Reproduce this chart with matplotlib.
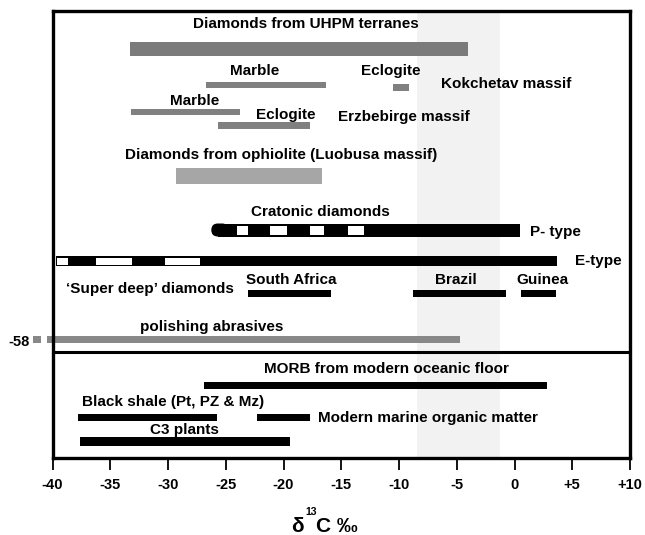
import matplotlib.pyplot as plt
from matplotlib.patches import FancyBboxPatch

# d13C ranges (per mil)
band = (-8.45, -1.25)

gray_names = ['UHPM', 'Kok marble', 'Kok eclogite', 'Erz marble', 'Erz eclogite',
              'Ophiolite', 'Polishing', 'Polishing -58']
gray_lo = [-33.3, -26.7, -10.5, -33.2, -25.7, -29.35, -40.5, -41.7]
gray_hi = [-4.0, -16.3, -9.1, -23.8, -17.7, -16.7, -4.7, -41.0]

black_names = ['E-type', 'South Africa', 'Brazil', 'Guinea', 'MORB',
               'Black shale', 'Modern marine', 'C3 plants']
black_lo = [-39.7, -23.1, -8.8, 0.6, -26.9, -37.75, -22.3, -37.65]
black_hi = [3.7, -15.85, -0.7, 3.55, 2.8, -25.8, -17.7, -19.4]

ptype = (-26.25, 0.46)
ptype_gaps_lo = [-24.05, -21.2, -17.7, -14.4]
ptype_gaps_hi = [-23.1, -19.7, -16.5, -13.0]
etype_gaps_lo = [-39.6, -36.2, -30.3]
etype_gaps_hi = [-38.7, -33.1, -27.25]

ticks = [-40, -35, -30, -25, -20, -15, -10, -5, 0, 5, 10]
tick_labels = ['-40', '-35', '-30', '-25', '-20', '-15', '-10', '-5', '0', '+5', '+10']

labels = ['Diamonds from UHPM terranes', 'Marble', 'Eclogite', 'Kokchetav massif',
          'Marble', 'Eclogite', 'Erzbebirge massif',
          'Diamonds from ophiolite (Luobusa massif)', 'Cratonic diamonds', 'P- type',
          'E-type', '\u2018Super deep\u2019 diamonds', 'South Africa', 'Brazil', 'Guinea',
          'polishing abrasives', 'MORB from modern oceanic floor',
          'Black shale (Pt, PZ & Mz)', 'Modern marine organic matter', 'C3 plants']

# layout (y in pixel rows from the top)
gray_y = [49, 85, 87.5, 112, 125, 176, 339, 339]
gray_h = [14, 6, 7, 6, 7, 16, 7, 7]
gray_c = ['#7b7b7b', '#808080', '#808080', '#808080', '#808080', '#a6a6a6', '#888888', '#888888']
black_y = [261, 293.3, 293.3, 293.3, 385.7, 417.3, 417.3, 441.7]
black_h = [10, 7, 7, 7, 7, 7, 7, 9]
ptype_y, ptype_h = 230, 13

label_x = [-18.1, -22.5, -10.7, -6.4, -27.7, -19.8, -15.3, -20.2, -16.8, 1.3,
           5.2, -31.6, -19.3, -5.1, 2.4, -26.2, -11.1, -29.6, -17.0, -28.6]
label_y = [24, 71, 71, 84, 101, 115, 117, 155, 212, 231.7,
           260.7, 289, 280, 280, 280, 326.7, 369, 402, 417.7, 430]
label_ha = ['center', 'center', 'center', 'left', 'center', 'center', 'left', 'center',
            'center', 'left', 'left', 'center', 'center', 'center', 'center', 'center',
            'center', 'center', 'left', 'center']

plt.rcParams['font.family'] = ['Liberation Sans', 'DejaVu Sans']
plt.rcParams['font.weight'] = 'bold'

fig = plt.figure(figsize=(6.45, 5.35), dpi=100)
ax = fig.add_axes([52.5 / 645, 1 - 457.5 / 535, 577.5 / 645, 447 / 535])
ax.set_xlim(-40, 10)
ax.set_ylim(457.5, 10.5)

ax.axvspan(band[0], band[1], color='#f2f2f2', zorder=0, lw=0)

for lo, hi, y, h, c in zip(gray_lo, gray_hi, gray_y, gray_h, gray_c):
    ax.barh(y, hi - lo, left=lo, height=h, color=c, clip_on=False, zorder=2)

for lo, hi, y, h in zip(black_lo, black_hi, black_y, black_h):
    ax.barh(y, hi - lo, left=lo, height=h, color='black', zorder=2)

# P-type bar, rounded on the left end
ax.add_patch(FancyBboxPatch((ptype[0], ptype_y - ptype_h / 2), 1.5, ptype_h,
                            boxstyle='round,pad=0,rounding_size=0.56',
                            mutation_aspect=11.55, fc='black', ec='none', zorder=2))
ax.barh(ptype_y, ptype[1] - ptype[0] - 0.6, left=ptype[0] + 0.6, height=ptype_h,
        color='black', zorder=2)

for lo, hi in zip(ptype_gaps_lo, ptype_gaps_hi):
    ax.barh(ptype_y, hi - lo, left=lo, height=9, color='white', zorder=3)
for lo, hi in zip(etype_gaps_lo, etype_gaps_hi):
    ax.barh(black_y[0], hi - lo, left=lo, height=7, color='white', zorder=3)

for s, x, y, ha in zip(labels, label_x, label_y, label_ha):
    ax.text(x, y, s, ha=ha, va='center', fontsize=11, fontweight='bold', zorder=4)

ax.text(-42.0, 342, '-58', ha='right', va='center', fontsize=10.5,
        fontweight='bold', clip_on=False)

ax.axhline(352, color='black', lw=2.2, zorder=5)
for sp in ax.spines.values():
    sp.set_linewidth(2.4)
    sp.set_zorder(5)

ax.set_xticks(ticks, tick_labels)
ax.set_yticks([])
ax.tick_params(axis='x', direction='out', length=8.5, width=1.3, pad=6, labelsize=10.5)

# axis title: delta 13C per mil, built from pieces
base = 1 - 531.5 / 535
fig.text(304 / 645, base, '\u03b4', ha='right', va='baseline', fontsize=15, fontweight='bold')
fig.text(305 / 645, 1 - 515 / 535, '13', ha='left', va='baseline', fontsize=7.5,
         fontweight='bold')
fig.text(316 / 645, base, 'C \u2030', ha='left', va='baseline', fontsize=15,
         fontweight='bold')

fig.savefig('out.png', dpi=100)
